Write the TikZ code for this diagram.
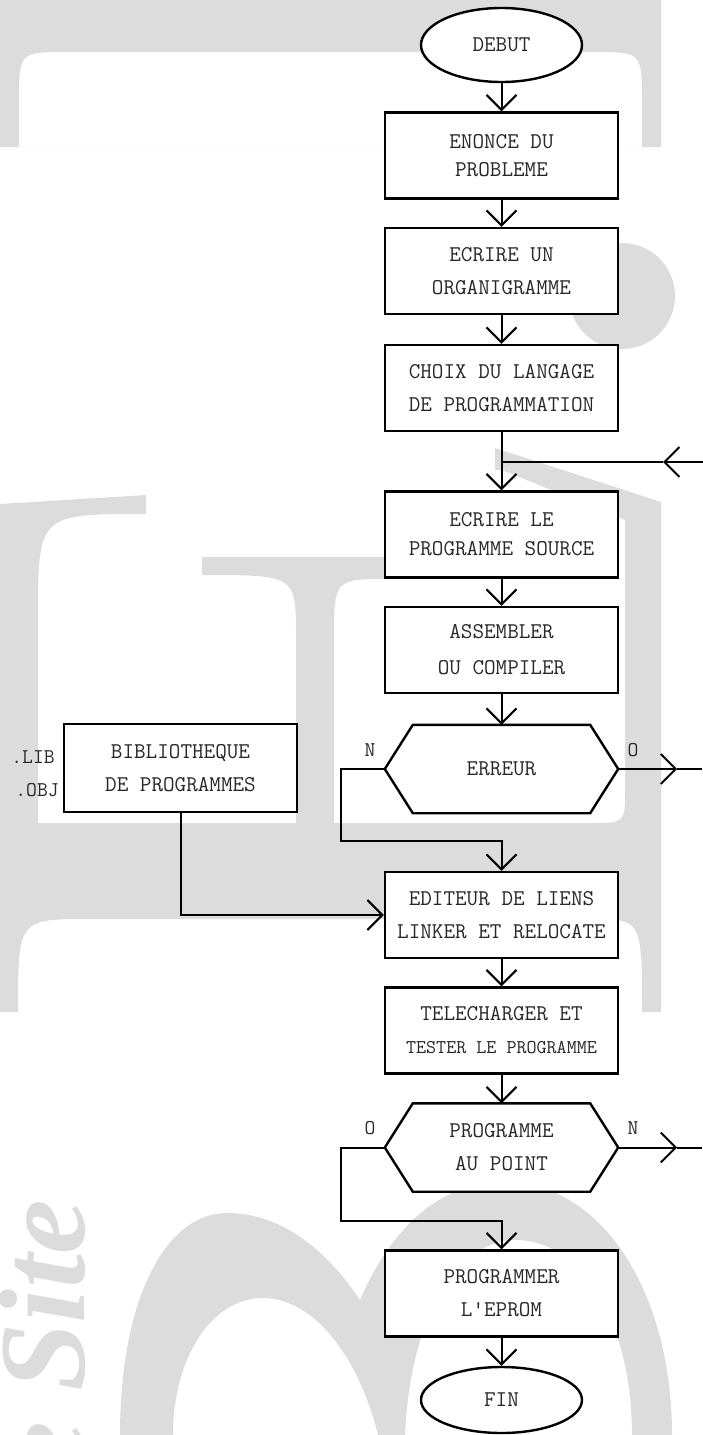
\documentclass[tikz,border=0pt]{standalone}
\usepackage{fontspec}
\newfontfamily\wmserif{Liberation Serif}
\usetikzlibrary{shapes.geometric,arrows.meta,calc}
\definecolor{wm}{RGB}{220,220,220}
\definecolor{txt}{RGB}{40,40,40}
\pgfdeclarelayer{wmlayer}
\pgfdeclarelayer{hexlayer}
\pgfsetlayers{wmlayer,hexlayer,main}
\begin{document}
\begin{tikzpicture}[x=1pt,y=-1pt,
  boxfont/.style={font=\ttfamily\fontsize{22.5}{33}\selectfont, text=txt},
  box/.style={boxfont, draw, line width=2.4pt, fill=white, minimum width=233pt, minimum height=86pt, inner sep=0pt, align=center},
  term/.style={boxfont, ellipse, draw, line width=2.4pt, fill=white, minimum width=161pt, minimum height=74pt, inner sep=0pt},
  hexnode/.style={boxfont, minimum width=233pt, minimum height=88pt, inner sep=0pt, align=center},
  hexline/.style={draw, line width=2.4pt, fill=white, line join=miter},
  conn/.style={line width=2pt},
  arr/.style={conn, -{Straight Barb[length=15pt,width=30pt]}},
  lbl/.style={font=\ttfamily\fontsize{21}{22}\selectfont, text=txt, inner sep=0pt}
]
\useasboundingbox (0,0) rectangle (703,1435);

% ---------- watermark ----------
\begin{pgfonlayer}{wmlayer}
\begin{scope}
\clip (0,0) rectangle (703,1435);
\fill[wm, even odd rule] (0,0) rectangle (661,147)
  (19,147) -- (19,102) .. controls (19,52) .. (69,52) -- (592,52) .. controls (642,52) .. (642,102) -- (642,147) -- cycle;
\fill[wm] (622,296) circle[radius=53];
\fill[wm] (0,504) -- (146,495) -- (146,514) .. controls (38,514) .. (38,620) -- (38,823) -- (0,823) -- cycle;
\fill[wm] (0,823) -- (661,823) -- (661,1012) -- (642,1012) .. controls (642,919) .. (590,919) -- (90,919) .. controls (18,919) .. (18,1012) -- (0,1012) -- cycle;
\fill[wm] (202,557) -- (500,557) -- (500,579) -- (390,579) .. controls (334,579) .. (334,640) -- (334,823) -- (296,823) -- (296,637) .. controls (296,575) .. (202,575) -- cycle;
\fill[wm] (495,448) -- (661,502) -- (661,823) -- (592,823) .. controls (625,823) .. (625,790) -- (625,520) -- (502,470) -- (495,470) -- cycle;
\fill[wm] (120,1435) .. controls (120,1300) and (165,1213) .. (227,1213)
  .. controls (285,1213) and (330,1255) .. (360,1300)
  .. controls (395,1220) and (445,1182) .. (505,1182)
  .. controls (600,1182) and (672,1290) .. (672,1435)
  -- (632,1435) .. controls (632,1320) and (580,1240) .. (516,1240)
  .. controls (455,1240) and (410,1320) .. (405,1435)
  -- (378,1435) .. controls (360,1360) and (315,1298) .. (263,1298)
  .. controls (210,1298) and (173,1360) .. (173,1435) -- cycle;
\node[rotate=90, anchor=base east, inner sep=0pt, text=wm,
  font=\wmserif\bfseries\itshape\fontsize{123}{123}\selectfont] (wmtext) at (84,1200) {e Site};
\end{scope}
\end{pgfonlayer}

% ---------- nodes ----------
\node[term] (debut) at (501.5,45) {DEBUT};
\node[box] (b1) at (501.5,155.5) {ENONCE DU\\[-5pt]PROBLEME};
\node[box] (b2) at (501.5,271) {ECRIRE UN\\ORGANIGRAMME};
\node[box] (b3) at (501.5,388) {CHOIX DU LANGAGE\\DE PROGRAMMATION};
\node[box] (b4) at (501.5,534.5) {ECRIRE LE\\[-4pt]PROGRAMME SOURCE};
\node[box] (b5) at (501.5,650) {ASSEMBLER\\[3pt]OU COMPILER};
\node[hexnode] (err) at (501.5,769) {ERREUR};
\node[box, minimum height=88pt] (bib) at (180.5,768) {BIBLIOTHEQUE\\DE PROGRAMMES};
\node[box] (b6) at (501.5,915) {EDITEUR DE LIENS\\LINKER ET RELOCATE};
\node[box] (b7) at (501.5,1030.5) {TELECHARGER ET\\{\fontsize{19.5}{33}\selectfont TESTER LE PROGRAMME}};
\node[hexnode] (h2) at (501.5,1147.5) {PROGRAMME\\AU POINT};
\node[box] (b8) at (501.5,1293.5) {PROGRAMMER\\L\textquotesingle EPROM};
\node[term, minimum height=66pt] (fin) at (501.5,1400) {FIN};

\begin{pgfonlayer}{hexlayer}
\draw[hexline] ($(err.north west)+(28,0)$) -- ($(err.north east)+(-28,0)$) -- (err.east)
  -- ($(err.south east)+(-28,0)$) -- ($(err.south west)+(28,0)$) -- (err.west) -- cycle;
\draw[hexline] ($(h2.north west)+(28,0)$) -- ($(h2.north east)+(-28,0)$) -- (h2.east)
  -- ($(h2.south east)+(-28,0)$) -- ($(h2.south west)+(28,0)$) -- (h2.west) -- cycle;
\end{pgfonlayer}

% labels
\node[lbl] (n1) at (370,750) {N};
\node[lbl] (o1) at (633,750) {O};
\node[lbl] (o2) at (370,1128) {O};
\node[lbl] (n2) at (633,1128) {N};
\node[lbl] (lib) at (33,757) {.LIB};
\node[lbl] (obj) at (37,790) {.OBJ};

% ---------- connectors ----------
\draw[arr] (debut.south) -- (b1.north);
\draw[arr] (b1.south) -- (b2.north);
\draw[arr] (b2.south) -- (b3.north);
\draw[arr] (b3.south) -- (b4.north);
\draw[arr] (b4.south) -- (b5.north);
\draw[arr] (b5.south) -- (err.north);
\draw[arr] (b6.south) -- (b7.north);
\draw[arr] (b7.south) -- (h2.north);
\draw[arr] (b8.south) -- (fin.north);

% loop entry at right
\coordinate (edgeIn) at (703,462);
\coordinate (tipIn) at (663,462);
\draw[arr] (edgeIn) -- (tipIn);
\draw[conn] (tipIn) -- (b3.south |- tipIn);

% ERREUR: O exit
\coordinate (tipO1) at ($(err.east)+(59,0)$);
\coordinate (edgeO1) at ($(err.east)+(84,0)$);
\draw[arr] (err.east) -- (tipO1);
\draw[conn] (tipO1) -- (edgeO1);

% ERREUR: N branch
\coordinate (nb) at (341,841);
\draw[arr] (err.west) -| (nb) -- (nb -| b6.north) -- (b6.north);

% bibliotheque
\draw[arr] (bib.south) |- (b6.west);

% PROGRAMME AU POINT: N exit
\coordinate (tipN2) at ($(h2.east)+(59,0)$);
\coordinate (edgeN2) at ($(h2.east)+(84,0)$);
\draw[arr] (h2.east) -- (tipN2);
\draw[conn] (tipN2) -- (edgeN2);

% PROGRAMME AU POINT: O branch
\coordinate (ob) at (341,1221);
\draw[arr] (h2.west) -| (ob) -- (ob -| b8.north) -- (b8.north);
\end{tikzpicture}
\end{document}
